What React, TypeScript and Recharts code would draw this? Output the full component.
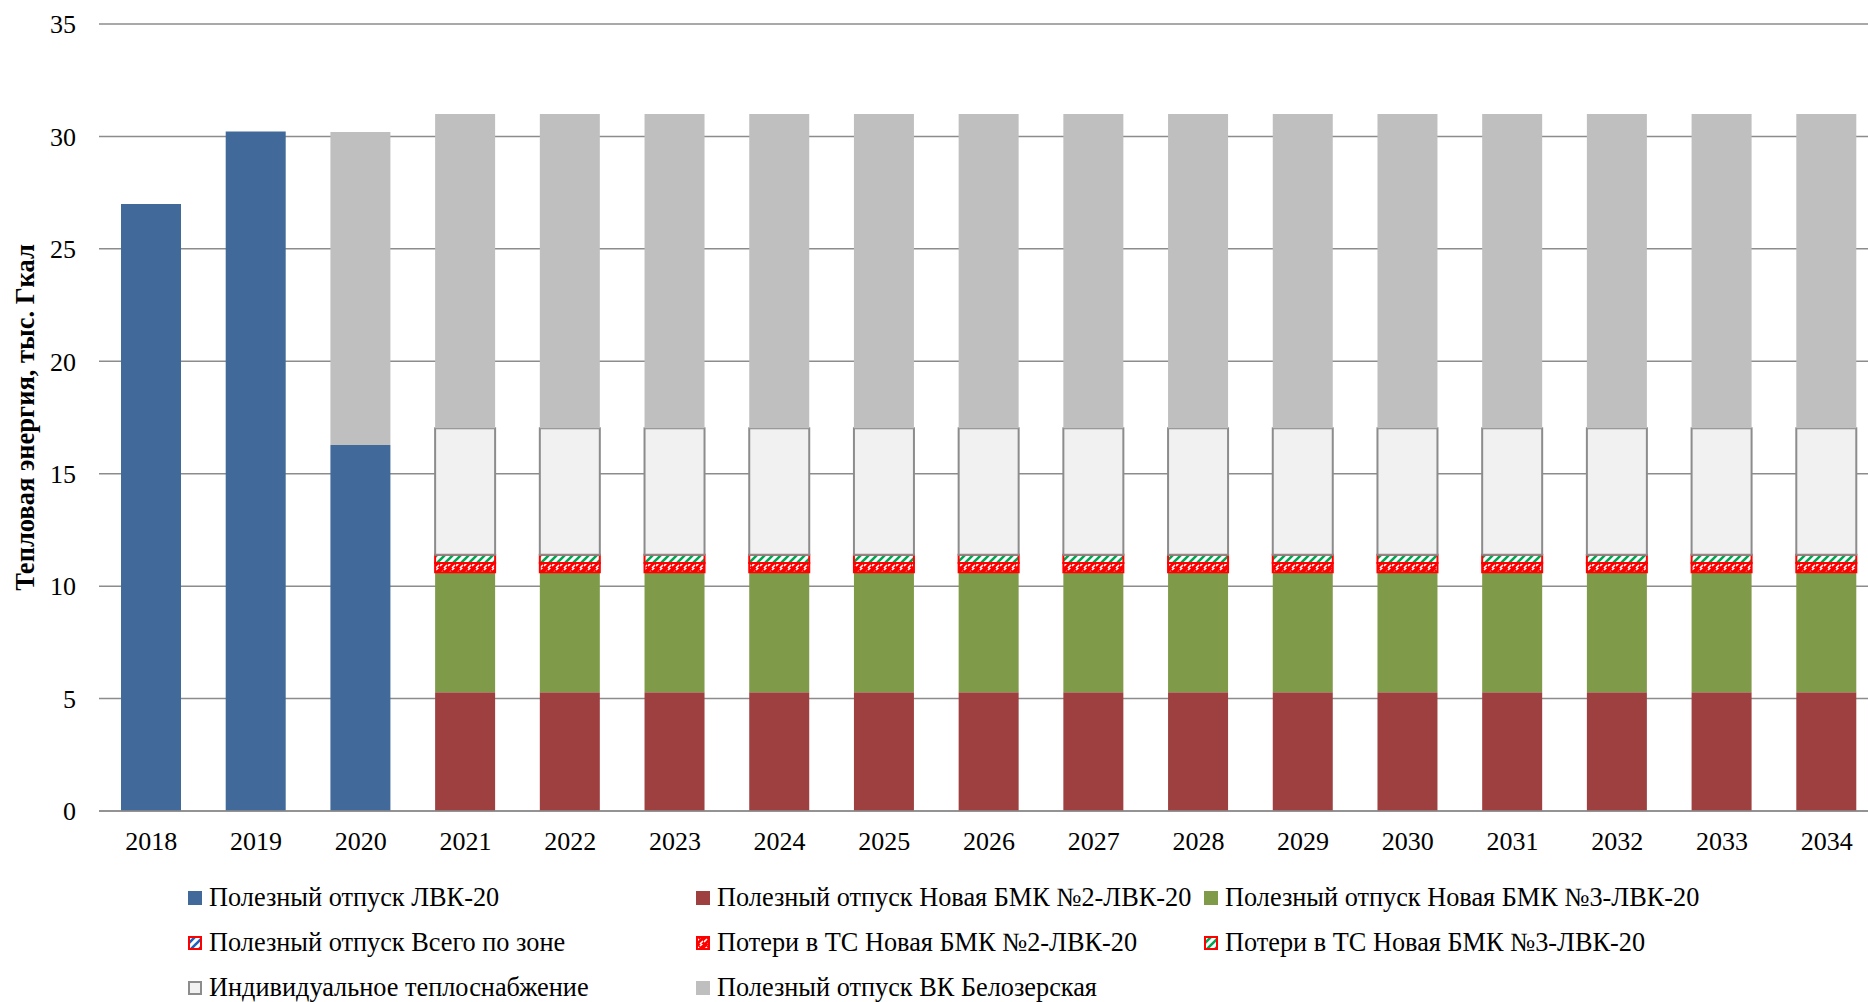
import { BarChart, Bar, XAxis, YAxis, CartesianGrid, Legend, Label } from "recharts";

const FONT = "'Liberation Serif', 'Times New Roman', serif";

const years = ["2018", "2019", "2020", "2021", "2022", "2023", "2024", "2025", "2026", "2027", "2028", "2029", "2030", "2031", "2032", "2033", "2034"];

// тыс. Гкал по годам
const lvk20 = [27.0, 30.22, 16.28, 0, 0, 0, 0, 0, 0, 0, 0, 0, 0, 0, 0, 0, 0];
const bmk2 = [0, 0, 0, 5.28, 5.28, 5.28, 5.28, 5.28, 5.28, 5.28, 5.28, 5.28, 5.28, 5.28, 5.28, 5.28, 5.28];
const bmk3 = [0, 0, 0, 5.34, 5.34, 5.34, 5.34, 5.34, 5.34, 5.34, 5.34, 5.34, 5.34, 5.34, 5.34, 5.34, 5.34];
const zoneTotal = [0, 0, 0, 0, 0, 0, 0, 0, 0, 0, 0, 0, 0, 0, 0, 0, 0];
const losses2 = [0, 0, 0, 0.41, 0.41, 0.41, 0.41, 0.41, 0.41, 0.41, 0.41, 0.41, 0.41, 0.41, 0.41, 0.41, 0.41];
const losses3 = [0, 0, 0, 0.37, 0.37, 0.37, 0.37, 0.37, 0.37, 0.37, 0.37, 0.37, 0.37, 0.37, 0.37, 0.37, 0.37];
const individual = [0, 0, 0, 5.62, 5.62, 5.62, 5.62, 5.62, 5.62, 5.62, 5.62, 5.62, 5.62, 5.62, 5.62, 5.62, 5.62];
const belozerskaya = [0, 0, 13.92, 13.98, 13.98, 13.98, 13.98, 13.98, 13.98, 13.98, 13.98, 13.98, 13.98, 13.98, 13.98, 13.98, 13.98];

const yTicks = [0, 5, 10, 15, 20, 25, 30, 35];

const data = years.map((year, i) => ({
  year,
  lvk20: lvk20[i],
  bmk2: bmk2[i],
  bmk3: bmk3[i],
  zoneTotal: zoneTotal[i],
  losses2: losses2[i],
  losses3: losses3[i],
  individual: individual[i],
  belozerskaya: belozerskaya[i],
}));

const series = [
  { key: "lvk20", name: "Полезный отпуск ЛВК-20", fill: "#416A9B", stroke: "none" },
  { key: "bmk2", name: "Полезный отпуск Новая БМК №2-ЛВК-20", fill: "#9D403F", stroke: "none" },
  { key: "bmk3", name: "Полезный отпуск Новая БМК №3-ЛВК-20", fill: "#7F9A48", stroke: "none" },
  { key: "zoneTotal", name: "Полезный отпуск Всего по зоне", fill: "url(#hatchBlue)", stroke: "#FF0000" },
  { key: "losses2", name: "Потери в ТС Новая БМК №2-ЛВК-20", fill: "url(#hatchRed)", stroke: "#FF0000" },
  { key: "losses3", name: "Потери в ТС Новая БМК №3-ЛВК-20", fill: "url(#hatchGreen)", stroke: "#FF0000" },
  { key: "individual", name: "Индивидуальное теплоснабжение", fill: "#F1F1F1", stroke: "#8C8C8C" },
  { key: "belozerskaya", name: "Полезный отпуск ВК Белозерская", fill: "#BFBFBF", stroke: "none" },
];

function YTitle(props: any) {
  const { x, y, height } = props.viewBox;
  const cx = x + 25;
  const cy = y + height / 2;
  return (
    <text
      x={cx}
      y={cy}
      transform={`rotate(-90, ${cx}, ${cy})`}
      textAnchor="middle"
      dominantBaseline="central"
      fontFamily={FONT}
      fontWeight="bold"
      fontSize={26.5}
      fill="#000"
    >
      Тепловая энергия, тыс. Гкал
    </text>
  );
}

function LegendMarker({ fill, stroke }: { fill: string; stroke: string }) {
  const hasBorder = stroke !== "none";
  return (
    <svg width={14} height={14} style={{ display: "block", flex: "none" }}>
      <rect
        x={hasBorder ? 1 : 0}
        y={hasBorder ? 1 : 0}
        width={hasBorder ? 12 : 14}
        height={hasBorder ? 12 : 14}
        fill={fill}
        stroke={hasBorder ? stroke : "none"}
        strokeWidth={2}
      />
    </svg>
  );
}

function ChartLegend() {
  return (
    <div style={{ position: "relative", width: 1868, height: 120 }}>
      {series.map((s, i) => {
        const col = i % 3;
        const row = Math.floor(i / 3);
        return (
          <div
            key={s.key}
            style={{
              position: "absolute",
              left: 188 + col * 508,
              top: row * 45,
              height: 28,
              display: "flex",
              alignItems: "center",
              gap: 7,
              fontFamily: FONT,
              fontSize: 26.3,
              color: "#000",
              whiteSpace: "nowrap",
            }}
          >
            <LegendMarker fill={s.fill} stroke={s.stroke} />
            <span>{s.name}</span>
          </div>
        );
      })}
    </div>
  );
}

export default function App() {
  return (
    <div style={{ width: 1868, height: 1002, overflow: "hidden", position: "relative", background: "#fff" }}>
      <style>{"body{margin:0;overflow:hidden}"}</style>
      <BarChart
        width={1880}
        height={1002}
        data={data}
        margin={{ top: 24, right: 1, left: 0, bottom: 131 }}
        barSize={60}
      >
        <defs>
          <pattern id="hatchRed" patternUnits="userSpaceOnUse" width="8" height="8">
            <rect width="8" height="8" fill="#FF0000" />
            <path d="M0,6 L3,3 M4,8 L7,5 M4,2 L7,-1" stroke="#FFFFFF" strokeWidth="1.6" />
          </pattern>
          <pattern id="hatchGreen" patternUnits="userSpaceOnUse" width="8" height="8">
            <rect width="8" height="8" fill="#FFFFFF" />
            <path d="M-1,9 L9,-1 M-1,1 L1,-1 M7,9 L9,7" stroke="#00A651" strokeWidth="2.6" />
          </pattern>
          <pattern id="hatchBlue" patternUnits="userSpaceOnUse" width="8" height="8">
            <rect width="8" height="8" fill="#FFFFFF" />
            <path d="M-1,9 L9,-1 M-1,1 L1,-1 M7,9 L9,7" stroke="#1F5FC0" strokeWidth="2.6" />
          </pattern>
        </defs>
        <CartesianGrid vertical={false} stroke="#8C8C8C" strokeWidth={1.5} />
        <XAxis
          dataKey="year"
          height={60}
          axisLine={{ stroke: "#8C8C8C", strokeWidth: 1.5 }}
          tickLine={false}
          tickMargin={15}
          interval={0}
          tick={{ fontFamily: FONT, fontSize: 26, fill: "#000" }}
        />
        <YAxis
          width={99}
          domain={[0, 35]}
          ticks={yTicks}
          axisLine={false}
          tickLine={false}
          tickMargin={17}
          tick={{ fontFamily: FONT, fontSize: 26, fill: "#000" }}
        >
          <Label content={YTitle} />
        </YAxis>
        {series.map((s) => (
          <Bar
            key={s.key}
            dataKey={s.key}
            name={s.name}
            stackId="total"
            fill={s.fill}
            stroke={s.stroke}
            strokeWidth={s.stroke === "none" ? 0 : 2}
            isAnimationActive={false}
          />
        ))}
        <Legend
          layout="horizontal"
          verticalAlign="middle"
          align="center"
          wrapperStyle={{ position: "absolute", left: 0, top: 884, width: 1868 }}
          content={() => <ChartLegend />}
        />
      </BarChart>
    </div>
  );
}
